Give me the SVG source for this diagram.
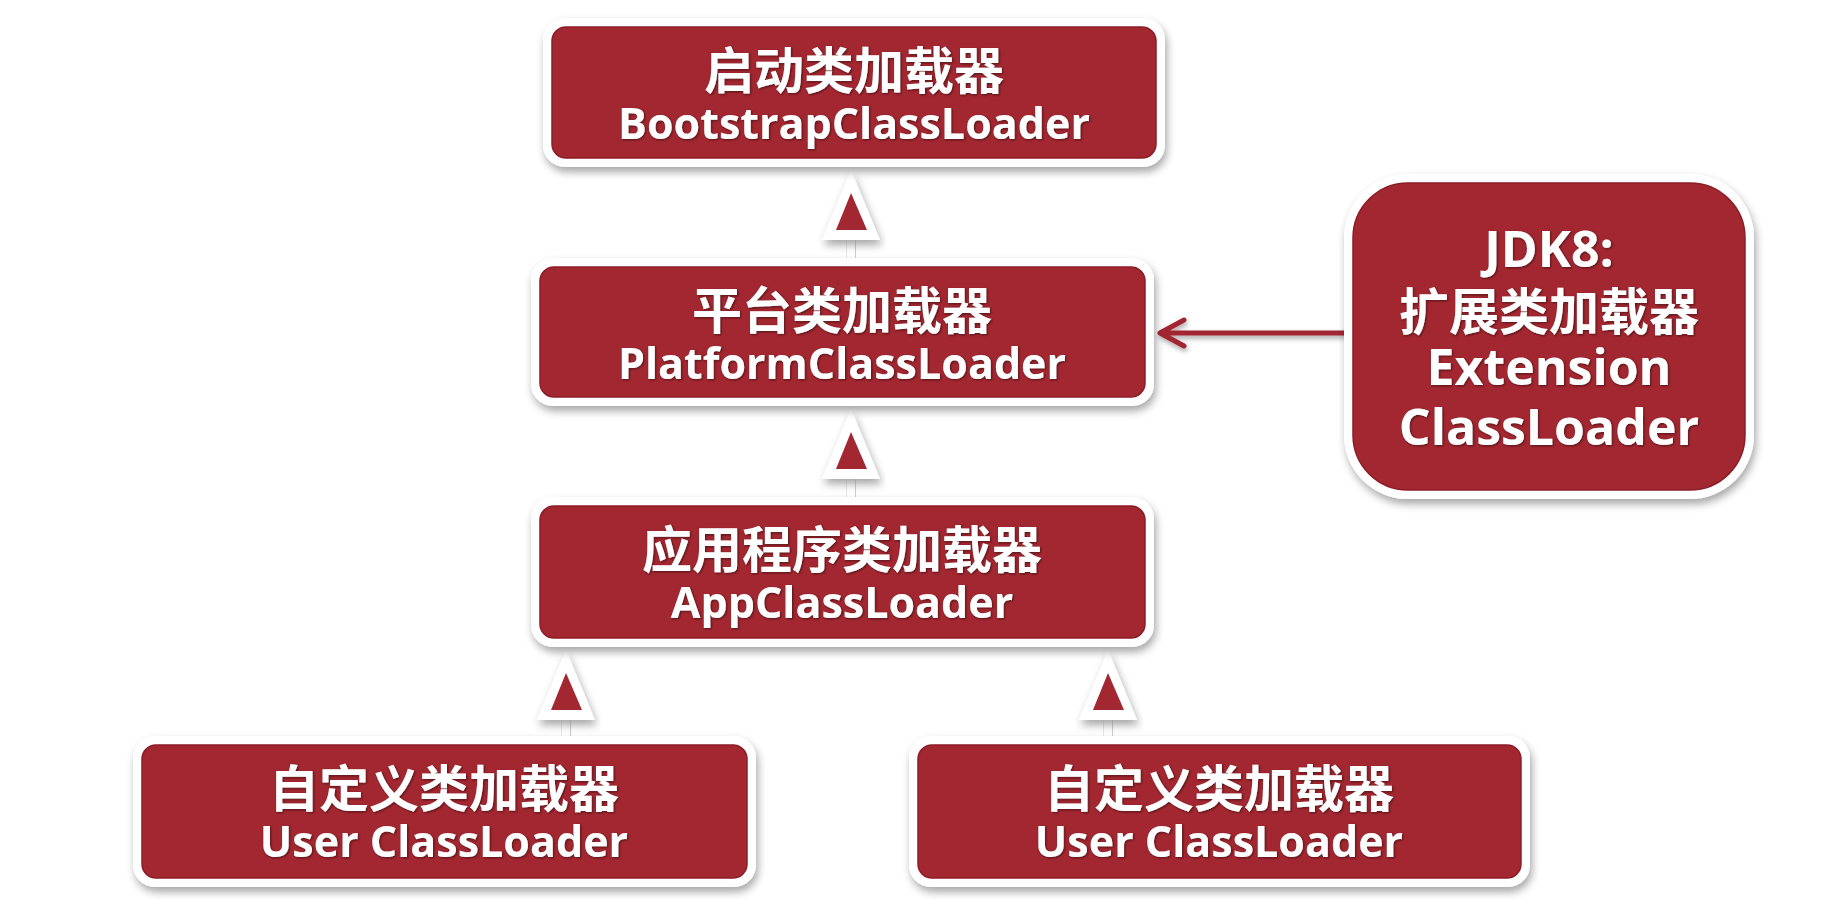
<svg xmlns="http://www.w3.org/2000/svg" width="1822" height="908" viewBox="0 0 1822 908">
<defs>
<filter id="sh" x="-10%" y="-20%" width="120%" height="140%">
<feDropShadow dx="2" dy="5" stdDeviation="4" flood-color="#000" flood-opacity="0.35"/>
</filter>
<filter id="lsh" filterUnits="userSpaceOnUse" x="1140" y="300" width="240" height="70">
<feDropShadow dx="1" dy="3" stdDeviation="2.5" flood-color="#000" flood-opacity="0.35"/>
</filter>
<filter id="tsh" x="-5%" y="-20%" width="110%" height="140%">
<feDropShadow dx="1" dy="1" stdDeviation="0.8" flood-color="#3a0a0e" flood-opacity="0.8"/>
</filter>
</defs>
<style>
.outer{fill:#ffffff;filter:url(#sh);}
.inner{fill:#a22731;stroke:#8c1d27;stroke-width:1.5;}
.t{fill:#ffffff;font-family:"Open Sans","Noto Sans CJK SC",sans-serif;font-weight:700;font-size:43px;text-anchor:middle;filter:url(#tsh);}
.big{font-size:50px;}
.cjk{font-family:"Noto Sans CJK SC","Open Sans",sans-serif;font-size:50px;font-weight:700;}
.atri{fill:#ffffff;filter:url(#sh);}
.ared{fill:#a22731;}
.line{stroke:#a12631;stroke-width:5;fill:none;filter:url(#lsh);}
</style>
<rect width="1822" height="908" fill="#ffffff"/>

<g id="connectors">
<g id="a1">
<rect class="atri" x="847" y="236" width="8" height="22"/>
<polygon class="atri" points="822,240 851,170 880,240"/>
<polygon class="ared" points="836,230 851,193 867,230"/>
</g>
<g id="a2">
<rect class="atri" x="847" y="475" width="8" height="24"/>
<polygon class="atri" points="822,479 851,409 880,479"/>
<polygon class="ared" points="836,469 851,432 867,469"/>
</g>
<g id="a3">
<rect class="atri" x="562" y="716" width="8" height="22"/>
<polygon class="atri" points="537,720 566,650 595,720"/>
<polygon class="ared" points="551,710 566,673 582,710"/>
</g>
<g id="a4">
<rect class="atri" x="1104" y="716" width="8" height="22"/>
<polygon class="atri" points="1079,720 1108,650 1137,720"/>
<polygon class="ared" points="1093,710 1108,673 1124,710"/>
</g>
<g id="a5" class="line">
<path d="M1354,333 L1162,333 M1184,320 L1160,333 L1184,346" stroke-linecap="round" stroke-linejoin="round"/>
</g>
</g>

<g id="bootstrap">
<rect class="outer" x="543" y="18" width="622" height="149" rx="22"/>
<rect class="inner" x="552" y="27" width="604" height="131" rx="14"/>
<text class="t cjk" x="854" y="89">启动类加载器</text>
<text class="t" x="854" y="139">BootstrapClassLoader</text>
</g>

<g id="platform">
<rect class="outer" x="531" y="258" width="623" height="148" rx="22"/>
<rect class="inner" x="540" y="267" width="605" height="130" rx="14"/>
<text class="t cjk" x="842" y="329">平台类加载器</text>
<text class="t" x="842" y="379">PlatformClassLoader</text>
</g>

<g id="app">
<rect class="outer" x="531" y="497" width="623" height="150" rx="22"/>
<rect class="inner" x="540" y="506" width="605" height="132" rx="14"/>
<text class="t cjk" x="842" y="568">应用程序类加载器</text>
<text class="t" x="842" y="618">AppClassLoader</text>
</g>

<g id="user1">
<rect class="outer" x="133" y="736" width="623" height="151" rx="22"/>
<rect class="inner" x="142" y="745" width="605" height="133" rx="14"/>
<text class="t cjk" x="444" y="807">自定义类加载器</text>
<text class="t" x="444" y="857">User ClassLoader</text>
</g>

<g id="user2">
<rect class="outer" x="909" y="736" width="621" height="151" rx="22"/>
<rect class="inner" x="918" y="745" width="603" height="133" rx="14"/>
<text class="t cjk" x="1219" y="807">自定义类加载器</text>
<text class="t" x="1219" y="857">User ClassLoader</text>
</g>

<g id="extension">
<rect class="outer" x="1344" y="174" width="410" height="325" rx="64"/>
<rect class="inner" x="1353" y="183" width="392" height="307" rx="55"/>
<text class="t big" x="1549" y="267">JDK8:</text>
<text class="t cjk" x="1549" y="330">扩展类加载器</text>
<text class="t big" x="1549" y="385">Extension</text>
<text class="t big" x="1549" y="445">ClassLoader</text>
</g>
</svg>
